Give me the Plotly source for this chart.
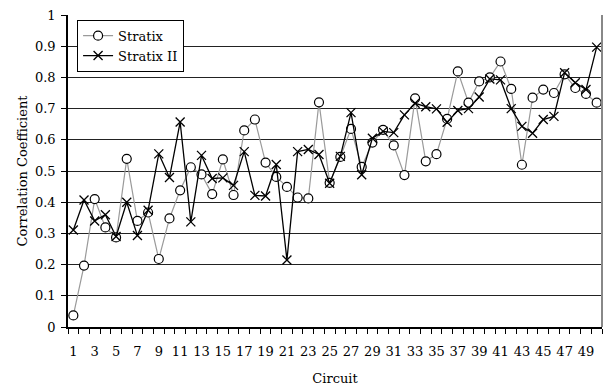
import plotly.graph_objects as go

# Circuit index 1..50
circuits = list(range(1, 51))

# Correlation coefficient per circuit
stratix = [0.037, 0.197, 0.41, 0.319, 0.287, 0.539, 0.34, 0.367, 0.218, 0.348,
           0.438, 0.512, 0.489, 0.426, 0.537, 0.423, 0.63, 0.665, 0.527, 0.481,
           0.449, 0.415, 0.412, 0.72, 0.462, 0.545, 0.635, 0.513, 0.591, 0.632,
           0.582, 0.487, 0.733, 0.531, 0.554, 0.667, 0.819, 0.719, 0.787, 0.80,
           0.851, 0.763, 0.52, 0.735, 0.761, 0.75, 0.81, 0.766, 0.747, 0.719]
stratix_ii = [0.311, 0.407, 0.34, 0.36, 0.29, 0.40, 0.293, 0.374, 0.555, 0.479,
              0.657, 0.337, 0.55, 0.476, 0.478, 0.454, 0.562, 0.422, 0.42, 0.521,
              0.215, 0.562, 0.569, 0.553, 0.461, 0.547, 0.687, 0.488, 0.605, 0.627,
              0.623, 0.68, 0.717, 0.706, 0.699, 0.656, 0.694, 0.70, 0.737, 0.795,
              0.792, 0.70, 0.643, 0.621, 0.665, 0.675, 0.815, 0.783, 0.761, 0.897]

x_tick_vals = list(range(1, 50, 2))
x_tick_text = [str(v) for v in x_tick_vals]
y_tick_vals = [0, 0.1, 0.2, 0.3, 0.4, 0.5, 0.6, 0.7, 0.8, 0.9, 1]
y_tick_text = ["0", "0.1", "0.2", "0.3", "0.4", "0.5", "0.6", "0.7", "0.8", "0.9", "1"]

FONT = "DejaVu Serif"
FS = 13

fig = go.Figure()
fig.add_trace(go.Scatter(
    x=circuits, y=stratix, name="Stratix", mode="lines+markers",
    line=dict(color="#9a9a9a", width=1.2),
    marker=dict(symbol="circle", size=9, color="white",
                line=dict(color="black", width=1.2)),
))
fig.add_trace(go.Scatter(
    x=circuits, y=stratix_ii, name="Stratix II", mode="lines+markers",
    line=dict(color="black", width=1.3),
    marker=dict(symbol="x-thin-open", size=9, color="black",
                line=dict(color="black", width=1.3)),
))

fig.update_layout(
    width=605, height=390,
    margin=dict(l=68, r=3, t=15, b=63),
    paper_bgcolor="white", plot_bgcolor="white",
    font=dict(family=FONT, size=FS, color="black"),
    showlegend=True,
    legend=dict(x=0.017, y=0.985, xanchor="left", yanchor="top",
                bgcolor="white", bordercolor="black", borderwidth=1,
                font=dict(family=FONT, size=FS, color="black"),
                itemwidth=30, tracegroupgap=0),
)

fig.update_xaxes(
    range=[0.5, 50.5], tickmode="array", tickvals=x_tick_vals, ticktext=x_tick_text,
    ticks="", showgrid=False, zeroline=False, ticklabelstandoff=12,
    showline=True, linecolor="black", linewidth=1.5, mirror=False,
    minor=dict(tick0=0.5, dtick=1, ticks="outside", ticklen=5,
               tickcolor="black", tickwidth=1, showgrid=False),
    tickfont=dict(family=FONT, size=FS, color="black"),
    title=dict(text="Circuit", font=dict(family=FONT, size=FS, color="black"), standoff=16),
)
fig.update_yaxes(
    range=[0, 1], tickmode="array", tickvals=y_tick_vals, ticktext=y_tick_text,
    ticks="outside", ticklen=5, tickcolor="black", ticklabelstandoff=3,
    showgrid=True, gridcolor="#222222", gridwidth=1, zeroline=False,
    showline=True, linecolor="black", linewidth=1.5,
    tickfont=dict(family=FONT, size=FS, color="black"),
    title=dict(text="Correlation Coefficient", font=dict(family=FONT, size=FS, color="black"), standoff=4),
)

# right border of the plot area
fig.add_shape(type="line", xref="paper", yref="paper", x0=1, x1=1, y0=0, y1=1,
              line=dict(color="#888888", width=2))

fig.write_html("out.html")
